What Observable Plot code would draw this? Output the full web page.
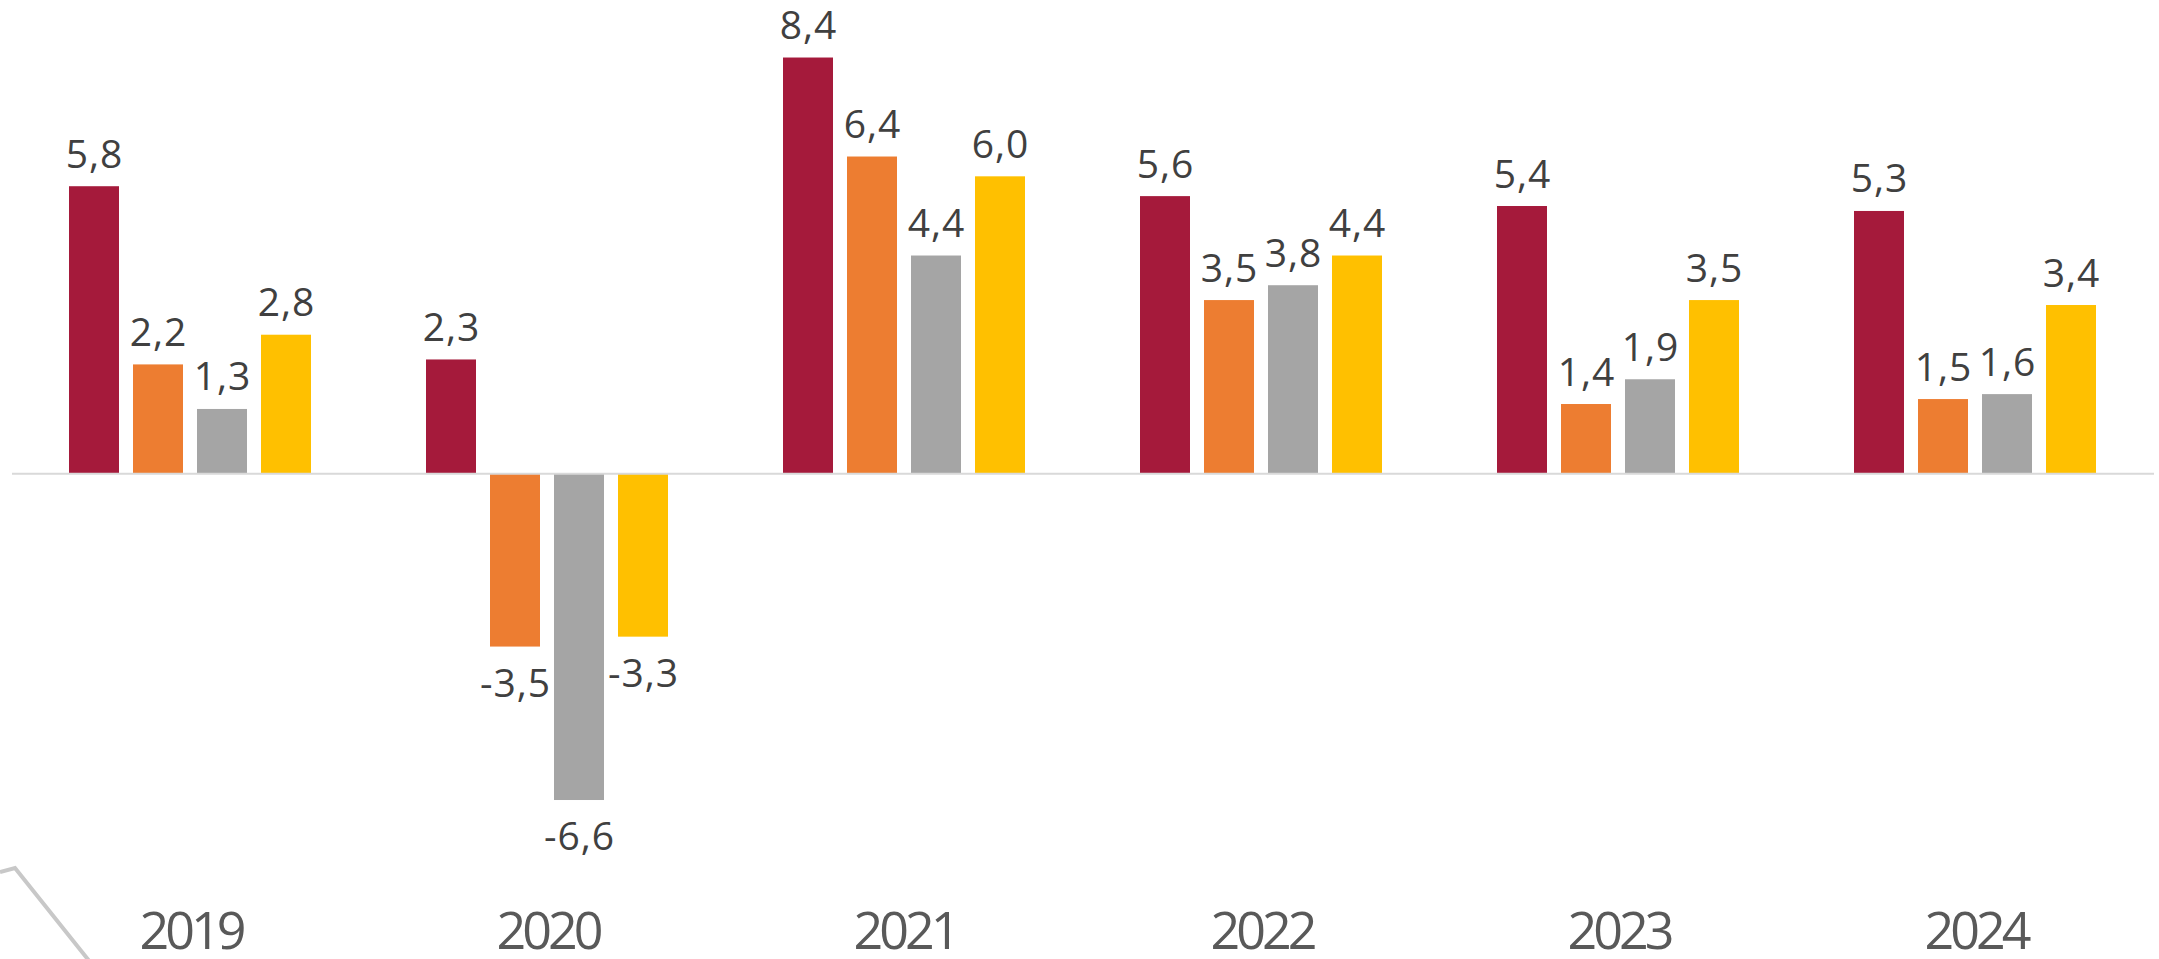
<!DOCTYPE html>
<html>
<head>
<meta charset="utf-8">
<script src="https://cdn.jsdelivr.net/npm/d3@7"></script>
<script src="https://cdn.jsdelivr.net/npm/@observablehq/plot@0.6"></script>
<style>
  html, body { margin: 0; padding: 0; background: #fff; }
  #wrap { position: relative; width: 2159px; height: 959px; overflow: hidden; }
  #deco { position: absolute; left: 0; top: 0; pointer-events: none; }
  .yearax text { letter-spacing: -4px; }
  .vlab text { letter-spacing: 1px; }
</style>
</head>
<body>
<div id="wrap">
  <div id="chart"></div>
  <svg id="deco" width="2159" height="959"><polyline points="0,872 15,868 98,972" fill="none" stroke="#c8c8c8" stroke-width="4"/></svg>
</div>
<script>
const years = ["2019", "2020", "2021", "2022", "2023", "2024"];
const series = ["Série 1", "Série 2", "Série 3", "Série 4"];
const colors = ["#A51A3B", "#ED7D31", "#A5A5A5", "#FFC000"];
const serie1 = [5.8, 2.3, 8.4, 5.6, 5.4, 5.3];
const serie2 = [2.2, -3.5, 6.4, 3.5, 1.4, 1.5];
const serie3 = [1.3, -6.6, 4.4, 3.8, 1.9, 1.6];
const serie4 = [2.8, -3.3, 6.0, 4.4, 3.5, 3.4];
const allSeries = [serie1, serie2, serie3, serie4];

const data = years.flatMap((y, i) => series.map((s, j) => ({year: y, series: s, value: allSeries[j][i]})));
const fmt = v => v.toFixed(1).replace(".", ",");

const chart = Plot.plot({
  width: 2159,
  height: 959,
  marginTop: 0,
  marginBottom: 79,
  marginLeft: 10,
  marginRight: 4,
  style: {fontFamily: "'Open Sans', sans-serif", background: "transparent"},
  fx: {domain: years, paddingInner: 0, paddingOuter: 0, label: null},
  x: {domain: series, paddingInner: 14 / 65, paddingOuter: 0.8577, axis: null},
  y: {domain: [-8.216, 9.562], axis: null},
  color: {domain: series, range: colors},
  marks: [
    Plot.barY(data, {fx: "year", x: "series", y: "value", fill: "series"}),
    Plot.ruleY([0], {stroke: "#d9d9d9", strokeWidth: 2}),
    Plot.text(data.filter(d => d.value >= 0), {
      fx: "year", x: "series", y: "value", text: d => fmt(d.value),
      lineAnchor: "bottom", dy: -19, fill: "#404040", fontSize: 39, className: "vlab"
    }),
    Plot.text(data.filter(d => d.value < 0), {
      fx: "year", x: "series", y: "value", text: d => fmt(d.value),
      lineAnchor: "top", dy: 22, fill: "#404040", fontSize: 39, className: "vlab"
    }),
    Plot.axisFx({anchor: "bottom", tickSize: 0, tickPadding: 32, fontSize: 52, fill: "#595959", label: null, className: "yearax"})
  ]
});
document.getElementById("chart").appendChild(chart);
</script>
</body>
</html>
